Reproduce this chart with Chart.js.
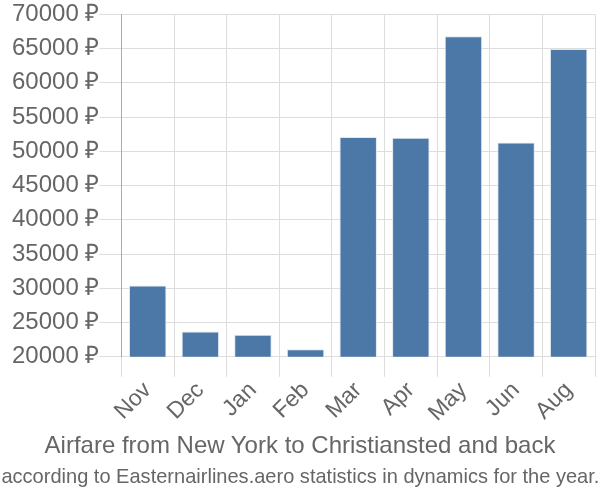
<!DOCTYPE html>
<html>
<head>
<meta charset="utf-8">
<script src="https://cdn.jsdelivr.net/npm/chart.js@4/dist/chart.umd.min.js"></script>
<style>
  html, body { margin: 0; padding: 0; background: #fff; }
  #wrap { width: 600px; height: 500px; position: relative; }
  .caption {
    position: absolute; left: 0; width: 600px; text-align: center;
    color: #666; font-family: 'Liberation Sans', Arial, sans-serif; white-space: nowrap;
  }
  .caption span { display: inline-block; }
  #title { top: 431px; font-size: 24px; line-height: 28px; }
  #subtitle { top: 463px; font-size: 21px; line-height: 26px; }
  #subtitle span { transform-origin: 50% 50%; }
</style>
</head>
<body>
<div id="wrap">
  <canvas id="chart"></canvas>
  <div id="title" class="caption"><span></span></div>
  <div id="subtitle" class="caption"><span></span></div>
</div>
<script>
// Monthly airfare, New York <-> Christiansted (RUB)
const months = ['Nov', 'Dec', 'Jan', 'Feb', 'Mar', 'Apr', 'May', 'Jun', 'Aug'];
const prices = [30400, 23700, 23200, 21100, 52100, 52000, 66800, 51300, 64950];
const yTicks = [20000, 25000, 30000, 35000, 40000, 45000, 50000, 55000, 60000, 65000, 70000];

const titleText = 'Airfare from New York to Christiansted and back';
const subtitleText = 'according to Easternairlines.aero statistics in dynamics for the year.';

const grey = '#666';
const gridColor = '#ddd';

document.querySelector('#title span').textContent = titleText;
const sub = document.querySelector('#subtitle span');
sub.textContent = subtitleText;

// the subtitle in the original is a condensed face; squeeze it to fit the width
const fitSubtitle = () => {
  const w = sub.getBoundingClientRect().width / (sub._scale || 1);
  sub._scale = Math.min(1, 598 / w);
  sub.style.transform = `scaleX(${sub._scale})`;
  sub.style.marginLeft = sub.style.marginRight = `${-(w - 600) / 2}px`;
};
fitSubtitle();

new Chart(document.getElementById('chart'), {
  type: 'bar',
  data: {
    labels: months,
    datasets: [{
      data: prices,
      backgroundColor: '#4c78a8',
      borderColor: '#dfe7f0',
      borderWidth: { top: 1, left: 1, right: 1, bottom: 0 },
      categoryPercentage: 0.8,
      barPercentage: 0.89,
    }],
  },
  options: {
    responsive: true,
    maintainAspectRatio: false,
    animation: false,
    layout: { padding: { left: 12, right: 5, top: 3, bottom: 73 } },
    plugins: {
      legend: { display: false },
      tooltip: { enabled: false },
    },
    scales: {
      x: {
        grid: { color: gridColor, lineWidth: 1, offset: true, tickLength: 20 },
        border: { color: gridColor },
        ticks: {
          color: grey,
          font: { family: 'Liberation Sans', size: 23 },
          maxRotation: 45,
          minRotation: 45,
          padding: 0,
        },
      },
      y: {
        min: 20000,
        max: 70000,
        afterBuildTicks: (axis) => { axis.ticks = yTicks.map((v) => ({ value: v })); },
        grid: { color: gridColor, lineWidth: 1, tickLength: 22 },
        border: { color: '#aaa' },
        ticks: {
          color: grey,
          font: { family: 'Liberation Sans', size: 24 },
          padding: 0,
          callback: (v) => v + ' ₽',
        },
      },
    },
  },
});
</script>
</body>
</html>
